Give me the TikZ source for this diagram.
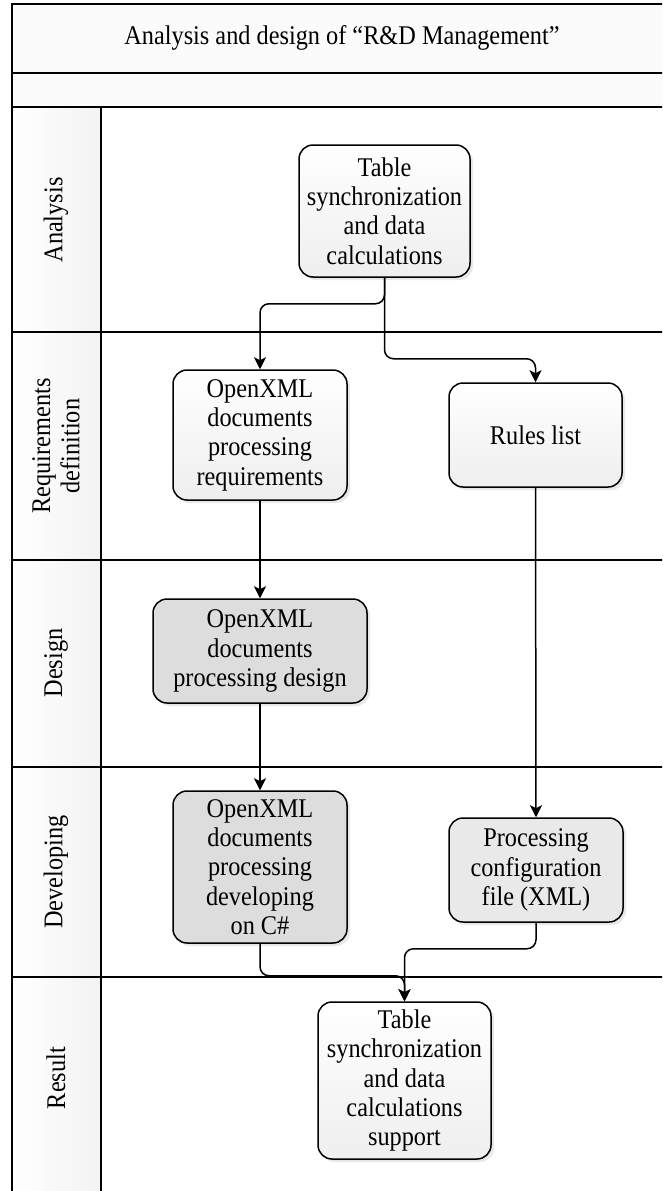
\documentclass[tikz,border=0pt]{standalone}
\usepackage{fontspec}
\setmainfont{Liberation Serif}[FakeStretch=0.9]
\usetikzlibrary{arrows.meta,shadows}
\begin{document}
\begin{tikzpicture}[x=1pt,y=-1pt,
  lane/.style={line width=2pt},
  lbl/.style={rotate=90,align=center,font=\fontsize{27}{29.3}\selectfont},
  box/.style={draw,line width=1.5pt,rounded corners=14pt,inner sep=2pt,align=center,
    font=\fontsize{27}{29.3}\selectfont,
    drop shadow={opacity=0.18,shadow xshift=3pt,shadow yshift=-3pt}},
  light/.style={box,top color=white,bottom color=gray!13},
  mid/.style={box,fill=gray!17},
  dark/.style={box,fill=gray!27},
  arr/.style={line width=1.5pt,rounded corners=9pt,-{Stealth[length=12pt,width=12pt,inset=3pt]}}]
\useasboundingbox (0,0) rectangle (662,1191);
\clip (0,0) rectangle (662,1191);
% background bands
\fill[gray!3] (12,4) rectangle (670,107);
\shade[left color=white,right color=gray!10] (12,107) rectangle (101,1200);
% frame and lanes
\draw[lane] (12,1200) -- (12,4) -- (670,4);
\draw[lane] (12,73) -- (670,73);
\draw[lane] (12,107) -- (670,107);
\draw[lane] (12,332) -- (670,332);
\draw[lane] (12,560) -- (670,560);
\draw[lane] (12,767) -- (670,767);
\draw[lane] (12,977) -- (670,977);
\draw[lane] (101,107) -- (101,1200);
% title
\node[font=\fontsize{27}{29.3}\selectfont] (title) at (342,38) {Analysis and design of “R\&D Management”};
% lane labels
\node[lbl] (lA) at (56,220) {Analysis};
\node[lbl] (lR) at (56,446) {Requirements\\definition};
\node[lbl] (lD) at (56,663) {Design};
\node[lbl] (lV) at (56,872) {Developing};
\node[lbl] (lS) at (56,1078) {Result};
% boxes
\node[light,minimum width=171pt,minimum height=132pt] (A) at (384.5,211) {Table\\synchronization\\and data\\calculations};
\node[light,minimum width=174pt,minimum height=130pt] (Req) at (260,435) {OpenXML\\documents\\processing\\requirements};
\node[light,minimum width=173pt,minimum height=104pt] (Rules) at (535.5,435) {Rules list};
\node[dark,minimum width=214pt,minimum height=104pt] (Des) at (260,651) {OpenXML\\documents\\processing design};
\node[dark,minimum width=174pt,minimum height=152pt] (Dev) at (260,867) {OpenXML\\documents\\processing\\developing\\on C\#};
\node[mid,minimum width=174pt,minimum height=104pt] (Proc) at (536,870) {Processing\\configuration\\file (XML)};
\node[light,minimum width=173pt,minimum height=157pt] (Res) at (404.5,1080.5) {Table\\synchronization\\and data\\calculations\\support};
% connectors
\draw[arr] (A.south) -- ++(0,26) -| (Req.north);
\draw[arr] (A.south) -- ++(0,81) -| (Rules.north);
\draw[arr] (Req.south) -- (Des.north);
\draw[arr] (Des.south) -- (Dev.north);
\draw[arr] (Rules.south) -- (Proc.north);
\draw[arr] (Dev.south) -- ++(0,32) -| (Res.north);
\draw[arr] (Proc.south) -- ++(0,26) -| (Res.north);
\end{tikzpicture}
\end{document}
